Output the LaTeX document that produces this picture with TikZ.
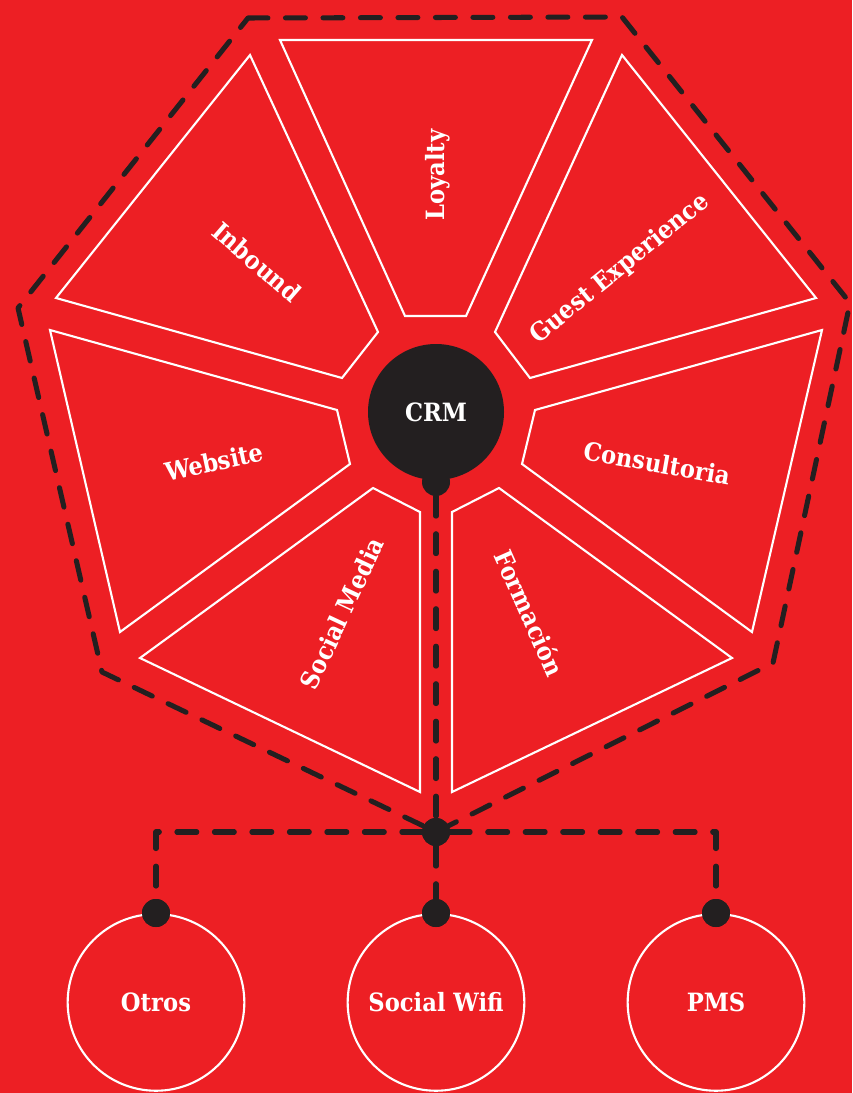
\documentclass[tikz,border=0pt]{standalone}
\usepackage{fontspec}
\setmainfont{DejaVu Serif Condensed}
\usetikzlibrary{positioning}

\definecolor{bgred}{HTML}{ED1F24}
\definecolor{ink}{HTML}{231F20}

\tikzset{
  seg/.style={draw=white, line width=1.8pt, line join=miter},
  lbl/.style={text=white, font=\fontsize{21.5}{24}\selectfont\bfseries, inner sep=0pt},
  dashln/.style={draw=ink, line width=4.3pt, line cap=round, line join=round, dash pattern=on 17pt off 15pt},
  dot/.style={circle, fill=ink, minimum size=0.84cm, inner sep=0pt},
  hub/.style={circle, fill=ink, minimum size=4.08cm, inner sep=0pt, text=white, font=\fontsize{21.5}{24}\selectfont\bfseries},
  subsys/.style={circle, draw=white, line width=1.8pt, minimum size=5.3cm, inner sep=0pt, text=white, font=\fontsize{21.5}{24}\selectfont\bfseries}
}

\begin{document}
\begin{tikzpicture}[x=0.03cm, y=-0.03cm]
\fill[bgred] (0,0) rectangle (852,1093);

% outline corners
\coordinate (h1) at (248,18);
\coordinate (h2) at (622,17);
\coordinate (h3) at (850,303);
\coordinate (h4) at (773,663);
\coordinate (h6) at (102,672);
\coordinate (h7) at (18,308);

% segments round the hub
\draw[seg] (280,40) -- (592,40) -- (466,316) -- (405,316) -- cycle;
\draw[seg] (250,55) -- (378,332) -- (342,378) -- (56,298) -- cycle;
\draw[seg] (622,55) -- (816,298) -- (530,378) -- (495,332) -- cycle;
\draw[seg] (50,330) -- (337,410) -- (350,464) -- (120,632) -- cycle;
\draw[seg] (822,330) -- (752,632) -- (522,464) -- (535,410) -- cycle;
\draw[seg] (140,658) -- (373,488) -- (420,512) -- (420,792) -- cycle;
\draw[seg] (452,512) -- (499,488) -- (732,658) -- (452,792) -- cycle;

\node[lbl, rotate=90] (loyalty) at (438,175) {Loyalty};
\node[lbl, rotate=-41] (inbound) at (257,262) {Inbound};
\node[lbl, rotate=39] (guest) at (620,269) {Guest Experience};
\node[lbl, rotate=12] (website) at (214,462) {Website};
\node[lbl, rotate=-10] (consult) at (657,463) {Consultoria};
\node[lbl, rotate=65] (social) at (342,613) {Social Media};
\node[lbl, rotate=-66] (formacion) at (530,613) {Formación};

% hub and junction
\node[dot] (knob) at (436,482) {};
\node[hub] (crm) at (436,412) {CRM};
\node[dot] (junc) at (436,832) {};

\node[dot] (d1) at (156,913) {};
\node[dot] (d2) at (436,913) {};
\node[dot] (d3) at (716,913) {};

\node[subsys, anchor=north] (otros) at (d1.center) {Otros};
\node[subsys, anchor=north] (wifi) at (d2.center) {Social Wifi};
\node[subsys, anchor=north] (pms) at (d3.center) {PMS};

\draw[dashln] (h1) -- (h2) -- (h3) -- (h4) -- (junc.center) -- (h6) -- (h7) -- cycle;
\draw[dashln] (knob) -- (junc);
\draw[dashln] (junc) -| (d1);
\draw[dashln] (junc) -| (d3);
\draw[dashln] (junc) -- (d2);

\node[dot] at (junc) {};
\node[dot] at (d1) {};
\node[dot] at (d2) {};
\node[dot] at (d3) {};
\end{tikzpicture}
\end{document}
